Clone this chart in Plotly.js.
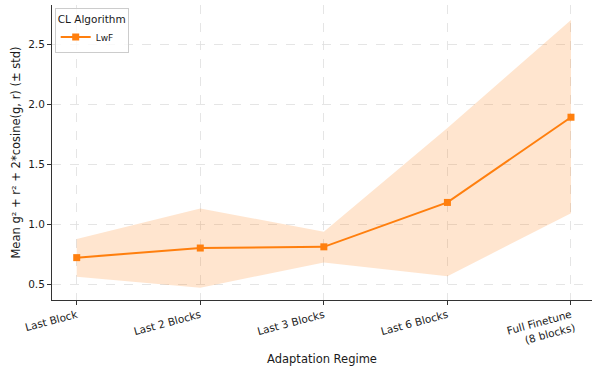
<!DOCTYPE html>
<html><head><meta charset="utf-8">
<script src="https://cdn.plot.ly/plotly-3.0.1.min.js"></script>
<style>body{margin:0;padding:0;background:#fff}#c{width:592px;height:368px}</style>
</head><body><div id="c"></div>
<script>
const categories = ["Last Block", "Last 2 Blocks", "Last 3 Blocks", "Last 6 Blocks", "Full Finetune<br>(8 blocks)"];
const meanVals = [0.72, 0.80, 0.81, 1.18, 1.89];
const upperVals = [0.875, 1.13, 0.935, 1.80, 2.70];
const lowerVals = [0.56, 0.47, 0.68, 0.565, 1.09];
const xIdx = categories.map((_, i) => i);

const traces = [
  {x: xIdx, y: upperVals, mode: 'lines', line: {width: 0, color: 'rgba(0,0,0,0)'}, showlegend: false, hoverinfo: 'skip'},
  {x: xIdx, y: lowerVals, mode: 'lines', line: {width: 0, color: 'rgba(0,0,0,0)'}, fill: 'tonexty', fillcolor: 'rgba(255,127,14,0.2)', showlegend: false, hoverinfo: 'skip'},
  {x: xIdx, y: meanVals, mode: 'lines+markers', name: 'LwF', line: {color: '#ff7f0e', width: 2}, marker: {symbol: 'square', size: 7, color: '#ff7f0e'}}
];

const layout = {
  width: 592, height: 368,
  margin: {l: 52, r: 0, t: 5, b: 68},
  paper_bgcolor: '#fff', plot_bgcolor: '#fff',
  font: {family: 'DejaVu Sans', size: 10, color: '#1a1a1a'},
  xaxis: {
    range: [-0.2, 4.17], tickmode: 'array', tickvals: xIdx, ticktext: categories,
    tickangle: -15, showgrid: true, gridcolor: '#dedede', griddash: 'dash', gridwidth: 0.8,
    showline: true, linecolor: '#333', linewidth: 1, ticks: 'outside', ticklen: 4, tickcolor: '#333',
    zeroline: false, tickfont: {size: 10.5},
    title: {text: 'Adaptation Regime', font: {size: 11.5}, standoff: 6}
  },
  yaxis: {
    range: [0.367, 2.825], tickvals: [0.5, 1.0, 1.5, 2.0, 2.5], ticktext: ['0.5','1.0','1.5','2.0','2.5'],
    showgrid: true, gridcolor: '#dedede', griddash: 'dash', gridwidth: 0.8,
    showline: true, linecolor: '#333', linewidth: 1, ticks: 'outside', ticklen: 4, tickcolor: '#333',
    zeroline: false, tickfont: {size: 10.5},
    title: {text: 'Mean g² + r² + 2*cosine(g, r) (± std)', font: {size: 11.5}, standoff: 5}
  },
  showlegend: true,
  legend: {
    x: 0.005, y: 0.99, xanchor: 'left', yanchor: 'top',
    bgcolor: 'rgba(255,255,255,0.8)', bordercolor: '#ccc', borderwidth: 1,
    font: {size: 9}, tracegroupgap: 0,
    title: {text: 'CL Algorithm', font: {size: 10.5}}
  }
};
Plotly.newPlot('c', traces, layout, {displayModeBar: false, staticPlot: true});
</script></body></html>
